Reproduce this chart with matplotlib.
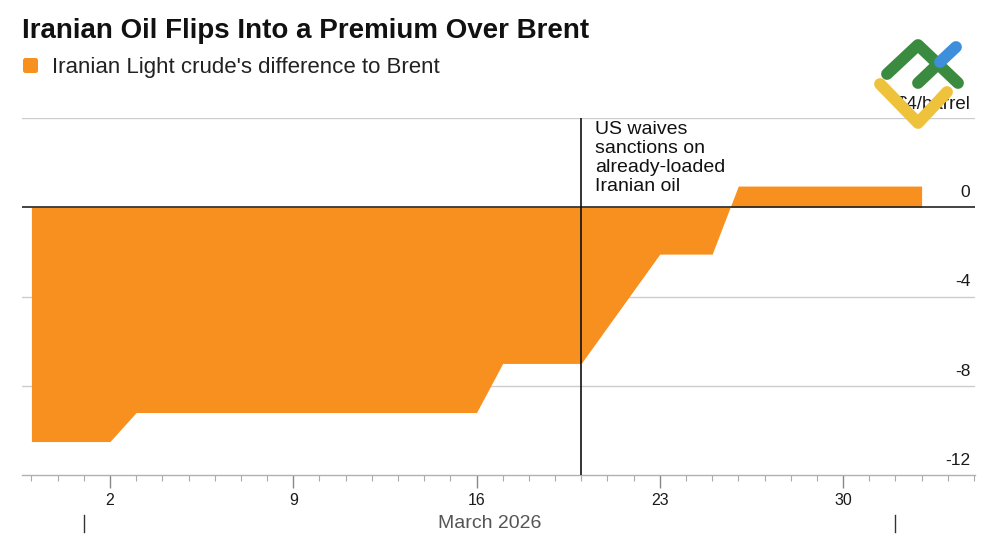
import matplotlib
matplotlib.use("Agg")
import matplotlib.pyplot as plt
import matplotlib.dates as mdates
import matplotlib.transforms as mtrans
from matplotlib.patches import FancyBboxPatch
from matplotlib.ticker import FuncFormatter, FixedLocator
import pandas as pd

plt.rcParams['font.family'] = ['Liberation Sans', 'DejaVu Sans']

# ---- data ----
dates = ['2026-02-27', '2026-03-02', '2026-03-03', '2026-03-16', '2026-03-17',
         '2026-03-20', '2026-03-23', '2026-03-25', '2026-03-26', '2026-04-02']
values = [-10.5, -10.5, -9.2, -9.2, -7.0, -7.0, -2.1, -2.1, 0.95, 0.95]
x_tick_dates = ['2026-03-02', '2026-03-09', '2026-03-16', '2026-03-23', '2026-03-30']
y_ticks = [0, -4, -8, -12]
y_top = 4
y_unit_label = "$4/barrel"
event_date = '2026-03-20'
event_text = "US waives\nsanctions on\nalready-loaded\nIranian oil"
title = "Iranian Oil Flips Into a Premium Over Brent"
legend_label = "Iranian Light crude's difference to Brent"
month_label = "March 2026"
month_bounds = ['2026-03-01', '2026-04-01']

orange = '#f7901e'

x = pd.to_datetime(dates)
W, H = 1000, 545
fig = plt.figure(figsize=(10, 5.45), dpi=100)
ax = fig.add_axes([22 / W, 1 - 475 / H, 953 / W, 357 / H])

ax.fill_between(x, values, 0, color=orange, linewidth=0, zorder=2)
ax.axhline(0, color='#222222', lw=1.2, zorder=3)
for yt in y_ticks[1:-1] + [y_top]:
    ax.axhline(yt, color='#cccccc', lw=1.0, zorder=1)

ev = pd.Timestamp(event_date)
ax.axvline(ev, color='#111111', lw=1.2, zorder=4)
ax.annotate(event_text, xy=(ev, y_top), xytext=(10, -2.5), textcoords='offset points',
            ha='left', va='top', fontsize=14, color='#111111', linespacing=1.14, zorder=5)

x0 = mdates.date2num(x[0])
x1 = mdates.date2num(x[-1])
ax.set_xlim(x0 - 0.36, x1 + 2.04)
ax.set_ylim(-12, y_top)

for s in ['top', 'left', 'right']:
    ax.spines[s].set_visible(False)
ax.spines['bottom'].set_color('#b0b0b0')
ax.spines['bottom'].set_linewidth(1.0)
ax.set_yticks([])

ax.xaxis.set_major_locator(FixedLocator(mdates.date2num(pd.to_datetime(x_tick_dates))))
ax.xaxis.set_minor_locator(mdates.DayLocator())
ax.xaxis.set_major_formatter(FuncFormatter(lambda v, p: str(mdates.num2date(v).day)))
ax.tick_params(axis='x', which='major', length=9, width=1, color='#888888',
               labelsize=11.5, labelcolor='#1a1a1a', pad=4)
ax.tick_params(axis='x', which='minor', length=4, width=0.8, color='#aaaaaa')

# y labels on the right, above gridlines
ytrans = mtrans.offset_copy(ax.get_yaxis_transform(), fig=fig, x=0, y=10, units='dots')
for yt in y_ticks:
    ax.text(0.995, yt, f"{yt}", transform=ytrans, ha='right', va='baseline',
            fontsize=12.5, color='#1a1a1a')
ax.text(0.995, y_top, y_unit_label, transform=ytrans, ha='right', va='baseline',
        fontsize=13.5, color='#1a1a1a')

# month separators and label
btrans = ax.get_xaxis_transform()
mb = pd.to_datetime(month_bounds)
for b in mb:
    ax.plot([b, b], [-40 / 357, -57 / 357], color='#333333', lw=1.0,
            transform=btrans, clip_on=False)
mid = mb[0] + (mb[1] - mb[0]) / 2
ax.text(mid, -48 / 357, month_label, transform=btrans, ha='center', va='center',
        fontsize=14, color='#555555')

# overlay for title, legend and logo (pixel coordinates)
ov = fig.add_axes([0, 0, 1, 1], zorder=10)
ov.set_xlim(0, W)
ov.set_ylim(H, 0)
ov.axis('off')
ov.patch.set_alpha(0)
ov.text(22, 38, title, fontsize=20, fontweight='bold', color='#111111',
        ha='left', va='baseline')
ov.add_patch(FancyBboxPatch((23, 58), 15, 15, boxstyle='round,pad=0,rounding_size=2.5',
                            facecolor=orange, edgecolor='none'))
ov.text(52, 73, legend_label, fontsize=16, color='#222222', ha='left', va='baseline')

# watermark logo
lw = 8.5
ov.plot([887, 918, 958], [74, 45, 83], color='#3a8b3f', lw=lw, solid_capstyle='round',
        solid_joinstyle='round')
ov.plot([918, 937], [83, 65], color='#3a8b3f', lw=lw, solid_capstyle='round')
ov.plot([940, 956], [62, 47], color='#3d8fdc', lw=lw, solid_capstyle='round')
ov.plot([880, 918, 947], [84, 123, 92], color='#efc23c', lw=lw, solid_capstyle='round',
        solid_joinstyle='round')

fig.savefig('out.png', dpi=100, facecolor='white')
